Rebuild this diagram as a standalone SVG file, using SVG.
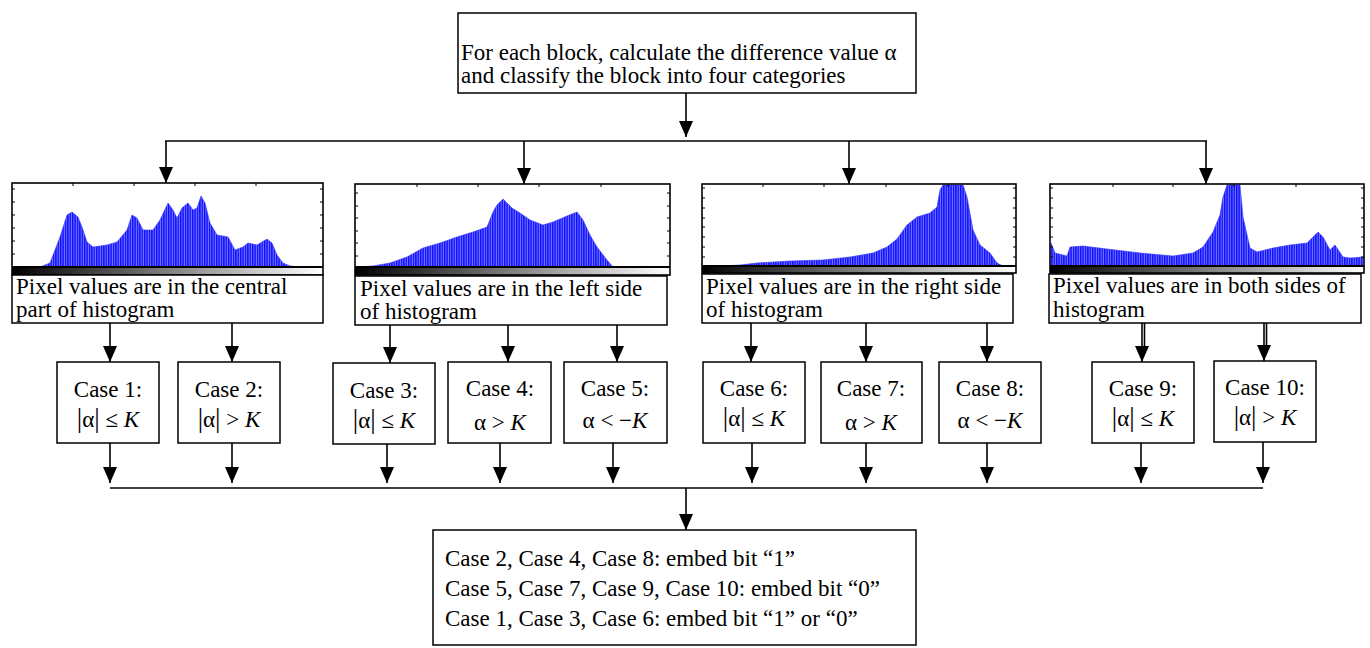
<svg xmlns="http://www.w3.org/2000/svg" width="1370" height="648" viewBox="0 0 1370 648">
<style>
.box{fill:#fff;stroke:#000;stroke-width:1.5}
.frame{fill:none;stroke:#000;stroke-width:1.6}
.tick{fill:none;stroke:#000;stroke-width:1}
.t{font-family:"Liberation Serif","Times New Roman",serif;font-size:23px;fill:#000}
.c{text-anchor:middle}
.k{font-style:italic}
.b{font-size:27px}
.con{fill:none;stroke:#000;stroke-width:1.6}
.arr{marker-end:url(#ah)}
.bars{fill:url(#stripes);stroke:#3030ff;stroke-width:0.6}
</style>
<defs>
<marker id="ah" markerUnits="userSpaceOnUse" markerWidth="16" markerHeight="14" refX="16" refY="7" orient="auto">
<path d="M0,0 L16,7 L0,14 z" fill="#000"/>
</marker>
<pattern id="stripes" patternUnits="userSpaceOnUse" width="2.4" height="10">
<rect width="2.4" height="10" fill="#7c7cff"/>
<rect width="1.4" height="10" fill="#0a0aff"/>
</pattern>
<linearGradient id="gray" x1="0" y1="0" x2="1" y2="0">
<stop offset="0" stop-color="#000"/>
<stop offset="1" stop-color="#fff"/>
</linearGradient>
</defs>

<g id="top">
<rect class="box" x="458" y="13" width="458" height="80"/>
<text class="t" x="461" y="60">For each block, calculate the difference value α</text>
<text class="t" x="461" y="83">and classify the block into four categories</text>
</g>

<g id="hist1">
<polygon class="bars" points="40,267 50,263 60,237 67,215 72,212 78,217 82,227 87,242 93,247 107,245 117,242 127,230 132,215 137,218 143,230 153,230 160,220 168,203 173,210 177,218 182,208 188,203 193,210 197,208 201,196 205,203 210,223 217,235 228,237 235,250 243,247 248,243 257,245 267,239 272,243 277,255 283,263 290,266 300,267"/>
<rect x="12" y="267" width="311" height="8" fill="url(#gray)"/>
<line x1="12" y1="267" x2="323" y2="267" stroke="#000" stroke-width="2"/>
<rect class="frame" x="12" y="183" width="311" height="92"/>
<path class="tick" d="M12,189h3M12,202h3M12,215h3M12,228h3M12,241h3M12,254h3M323,189h-3M323,202h-3M323,215h-3M323,228h-3M323,241h-3M323,254h-3M73,183v3M134,183v3M195,183v3M256,183v3"/>
<rect class="box" x="12" y="275" width="311" height="48"/>
<text class="t" x="16" y="294">Pixel values are in the central</text>
<text class="t" x="16" y="317">part of histogram</text>
</g>

<g id="hist2">
<polygon class="bars" points="357,267 373,266 390,263 407,257 423,248 440,243 457,237 473,232 487,227 493,212 497,205 503,199 512,208 520,213 530,220 543,225 553,222 567,216 577,212 583,220 590,235 597,247 607,260 613,267"/>
<rect x="355" y="267" width="315" height="8" fill="url(#gray)"/>
<line x1="355" y1="267" x2="670" y2="267" stroke="#000" stroke-width="2"/>
<rect class="frame" x="355" y="184" width="315" height="91"/>
<path class="tick" d="M355,193h3M355,206h3M355,218h3M355,231h3M355,243h3M355,256h3M670,193h-3M670,206h-3M670,218h-3M670,231h-3M670,243h-3M670,256h-3M417,184v3M478,184v3M539,184v3M601,184v3"/>
<rect class="box" x="355" y="276" width="312" height="49"/>
<text class="t" x="360" y="296">Pixel values are in the left side</text>
<text class="t" x="360" y="319">of histogram</text>
</g>

<g id="hist3">
<polygon class="bars" points="723,266 740,265 757,263 790,261 823,260 850,257 873,253 887,247 897,239 907,225 917,217 930,213 937,207 940,190 943,185 963,185 967,197 973,230 980,245 990,253 997,263 1003,266"/>
<rect x="702" y="266" width="314" height="7" fill="url(#gray)"/>
<line x1="702" y1="266" x2="1016" y2="266" stroke="#000" stroke-width="2"/>
<rect class="frame" x="702" y="184" width="314" height="89"/>
<path class="tick" d="M702,188h3M702,198h3M702,208h3M702,218h3M702,227h3M702,237h3M702,247h3M702,257h3M1016,188h-3M1016,198h-3M1016,208h-3M1016,218h-3M1016,227h-3M1016,237h-3M1016,247h-3M1016,257h-3M763,184v3M824,184v3M886,184v3M948,184v3"/>
<rect class="box" x="702" y="274" width="311" height="49"/>
<text class="t" x="706" y="294">Pixel values are in the right side</text>
<text class="t" x="706" y="317">of histogram</text>
</g>

<g id="hist4">
<polygon class="bars" points="1051,266 1051,243 1055,253 1067,256 1070,247 1083,246 1107,249 1140,253 1173,256 1193,253 1203,247 1213,232 1220,215 1223,197 1227,185 1240,185 1243,217 1250,248 1257,252 1273,248 1290,245 1307,243 1318,232 1323,237 1330,250 1335,245 1343,257 1350,258 1363,257 1363,266"/>
<rect x="1050" y="266" width="314" height="7" fill="url(#gray)"/>
<line x1="1050" y1="266" x2="1364" y2="266" stroke="#000" stroke-width="2"/>
<rect class="frame" x="1050" y="184" width="314" height="89"/>
<path class="tick" d="M1050,188h3M1050,198h3M1050,208h3M1050,218h3M1050,227h3M1050,237h3M1050,247h3M1050,257h3M1364,188h-3M1364,198h-3M1364,208h-3M1364,218h-3M1364,227h-3M1364,237h-3M1364,247h-3M1364,257h-3M1113,184v3M1173,184v3M1234,184v3M1296,184v3"/>
<rect class="box" x="1049" y="274" width="312" height="49"/>
<text class="t" x="1053" y="293">Pixel values are in both sides of</text>
<text class="t" x="1053" y="317">histogram</text>
</g>

<g id="case1"><rect class="box" x="57" y="362" width="102" height="81"/><text class="t c" x="108" y="397">Case 1:</text><text class="t c" x="108" y="427"><tspan class="b">|</tspan>α<tspan class="b">|</tspan> ≤ <tspan class="k">K</tspan></text></g>
<g id="case2"><rect class="box" x="178" y="362" width="102" height="81"/><text class="t c" x="229" y="397">Case 2:</text><text class="t c" x="229" y="427"><tspan class="b">|</tspan>α<tspan class="b">|</tspan> &gt; <tspan class="k">K</tspan></text></g>
<g id="case3"><rect class="box" x="333" y="363" width="102" height="81"/><text class="t c" x="384" y="398">Case 3:</text><text class="t c" x="384" y="428"><tspan class="b">|</tspan>α<tspan class="b">|</tspan> ≤ <tspan class="k">K</tspan></text></g>
<g id="case4"><rect class="box" x="448" y="362" width="103" height="81"/><text class="t c" x="500" y="396">Case 4:</text><text class="t c" x="500" y="430">α &gt; <tspan class="k">K</tspan></text></g>
<g id="case5"><rect class="box" x="564" y="362" width="103" height="81"/><text class="t c" x="615" y="396">Case 5:</text><text class="t c" x="615" y="428">α &lt; −<tspan class="k">K</tspan></text></g>
<g id="case6"><rect class="box" x="703" y="362" width="102" height="81"/><text class="t c" x="754" y="396">Case 6:</text><text class="t c" x="754" y="426"><tspan class="b">|</tspan>α<tspan class="b">|</tspan> ≤ <tspan class="k">K</tspan></text></g>
<g id="case7"><rect class="box" x="821" y="362" width="101" height="81"/><text class="t c" x="871" y="396">Case 7:</text><text class="t c" x="871" y="430">α &gt; <tspan class="k">K</tspan></text></g>
<g id="case8"><rect class="box" x="939" y="362" width="102" height="81"/><text class="t c" x="990" y="396">Case 8:</text><text class="t c" x="990" y="428">α &lt; −<tspan class="k">K</tspan></text></g>
<g id="case9"><rect class="box" x="1092" y="362" width="102" height="81"/><text class="t c" x="1143" y="396">Case 9:</text><text class="t c" x="1143" y="426"><tspan class="b">|</tspan>α<tspan class="b">|</tspan> ≤ <tspan class="k">K</tspan></text></g>
<g id="case10"><rect class="box" x="1214" y="361" width="102" height="81"/><text class="t c" x="1265" y="395">Case 10:</text><text class="t c" x="1265" y="425"><tspan class="b">|</tspan>α<tspan class="b">|</tspan> &gt; <tspan class="k">K</tspan></text></g>

<g id="result">
<rect class="box" x="433" y="530" width="483" height="115"/>
<text class="t" x="445" y="566">Case 2, Case 4, Case 8: embed bit “1”</text>
<text class="t" x="445" y="596">Case 5, Case 7, Case 9, Case 10: embed bit “0”</text>
<text class="t" x="445" y="626">Case 1, Case 3, Case 6: embed bit “1” or “0”</text>
</g>

<g id="connectors">
<line class="con arr" x1="686" y1="93" x2="686" y2="137"/>
<line class="con" x1="165" y1="141" x2="1207" y2="141"/>
<line class="con arr" x1="166" y1="141" x2="166" y2="183"/>
<line class="con arr" x1="524" y1="141" x2="524" y2="184"/>
<line class="con arr" x1="849" y1="141" x2="849" y2="184"/>
<line class="con arr" x1="1206" y1="141" x2="1206" y2="184"/>

<line class="con arr" x1="110" y1="323" x2="110" y2="362"/>
<line class="con arr" x1="232" y1="323" x2="232" y2="362"/>
<line class="con arr" x1="390" y1="325" x2="390" y2="363"/>
<line class="con arr" x1="508" y1="325" x2="508" y2="362"/>
<line class="con arr" x1="617" y1="325" x2="617" y2="362"/>
<line class="con arr" x1="751" y1="323" x2="751" y2="362"/>
<line class="con arr" x1="866" y1="323" x2="866" y2="362"/>
<line class="con arr" x1="987" y1="323" x2="987" y2="362"/>
<line class="con arr" x1="1142" y1="323" x2="1142" y2="362"/>
<line class="con" x1="1144.5" y1="323" x2="1144.5" y2="350"/>
<line class="con arr" x1="1264" y1="323" x2="1264" y2="361"/>
<line class="con" x1="1266.5" y1="323" x2="1266.5" y2="349"/>

<line class="con arr" x1="110" y1="443" x2="110" y2="483"/>
<line class="con arr" x1="232" y1="443" x2="232" y2="483"/>
<line class="con arr" x1="387" y1="444" x2="387" y2="483"/>
<line class="con arr" x1="500" y1="443" x2="500" y2="483"/>
<line class="con arr" x1="613" y1="443" x2="613" y2="483"/>
<line class="con arr" x1="752" y1="443" x2="752" y2="483"/>
<line class="con arr" x1="866" y1="443" x2="866" y2="483"/>
<line class="con arr" x1="987" y1="443" x2="987" y2="483"/>
<line class="con arr" x1="1141" y1="443" x2="1141" y2="483"/>
<line class="con arr" x1="1263" y1="442" x2="1263" y2="483"/>
<line class="con" x1="110" y1="488" x2="1263" y2="488"/>
<line class="con arr" x1="686" y1="488" x2="686" y2="530"/>
</g>
</svg>
